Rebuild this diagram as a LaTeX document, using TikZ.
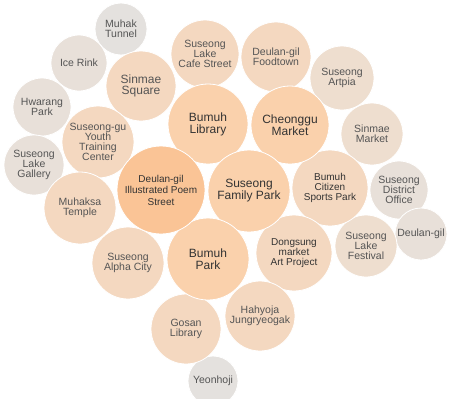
\documentclass[tikz,border=0pt]{standalone}
\usepackage{fontspec}
\setmainfont{Liberation Sans}
\definecolor{cpoem}{HTML}{FAC496}
\definecolor{cbig}{HTML}{FAD1AC}
\definecolor{cmid}{HTML}{F4D8C0}
\definecolor{clight}{HTML}{EEDECF}
\definecolor{cgray}{HTML}{E8E0D9}
\definecolor{cgrayb}{HTML}{E4E1DE}
\definecolor{tmin}{HTML}{555555}
\definecolor{tmaj}{HTML}{333333}
\tikzset{
  bub/.style={circle, draw=white, line width=0.8pt, inner sep=0pt, align=center, minimum size=2*#1},
  minor/.style={text=tmin, font=\fontsize{10.5}{10}\selectfont},
  small/.style={text=tmaj, font=\fontsize{10}{10}\selectfont},
  major/.style={text=tmaj, font=\fontsize{12}{12}\selectfont},
  poemtxt/.style={text=tmaj, font=\fontsize{10}{11.5}\selectfont},
}
\begin{document}
\begin{tikzpicture}[x=1pt,y=-1pt]
\useasboundingbox (0,0) rectangle (450,399);
\fill[white] (0,0) rectangle (450,399);
\clip (0,0) rectangle (450,399);
% outer ring
\node[bub=26pt, fill=cgrayb, minor] (muhak) at (121,29) {Muhak\\Tunnel};
\node[bub=28pt, fill=cgray, minor] (icerink) at (79,63) {Ice Rink};
\node[bub=29pt, fill=cgray, minor] (hwarang) at (42,107) {Hwarang\\Park};
\node[bub=30pt, fill=cgray, minor] (gallery) at (34,165) {Suseong\\Lake\\Gallery};
\node[bub=29pt, fill=cgray, minor] (district) at (399,190) {Suseong\\District\\Office};
\node[bub=26pt, fill=cgray, minor] (deulan) at (421,234) {Deulan-gil};
\node[bub=25pt, fill=cgrayb, minor] (yeonhoji) at (213,381) {Yeonhoji};
\node[bub=32pt, fill=clight, minor] (artpia) at (342,78) {Suseong\\Artpia};
\node[bub=31pt, fill=clight, minor] (sinmaemkt) at (372,134) {Sinmae\\Market};
\node[bub=31pt, fill=clight, minor] (festival) at (366,246) {Suseong\\Lake\\Festival};
% middle ring
\node[bub=35pt, fill=cmid, text=tmin, font=\fontsize{12}{11.5}\selectfont] (square) at (141,86) {Sinmae\\Square};
\node[bub=36pt, fill=cmid, minor] (youth) at (98,142) {Suseong-gu\\Youth\\Training\\Center};
\node[bub=36pt, fill=cmid, minor] (muhaksa) at (80,208) {Muhaksa\\Temple};
\node[bub=36pt, fill=cmid, minor] (alpha) at (128,263) {Suseong\\Alpha City};
\node[bub=34pt, fill=cmid, minor] (cafe) at (205,54) {Suseong\\Lake\\Cafe Street};
\node[bub=35pt, fill=cmid, minor] (foodtown) at (276,57) {Deulan-gil\\Foodtown};
\node[bub=38pt, fill=cmid, small] (sports) at (330,188) {Bumuh\\Citizen\\Sports Park};
\node[bub=38pt, fill=cmid, small] (dongsung) at (294,253) {Dongsung\\market\\Art Project};
\node[bub=35pt, fill=cmid, minor] (hahyoja) at (260,316) {Hahyoja\\Jungryeogak};
\node[bub=35pt, fill=cmid, minor] (gosan) at (186,329) {Gosan\\Library};
% core
\node[bub=40pt, fill=cbig, major] (library) at (208,124) {Bumuh\\Library};
\node[bub=39pt, fill=cbig, major] (cheonggu) at (290,125) {Cheonggu\\Market};
\node[bub=41pt, fill=cbig, major] (family) at (249,191) {Suseong\\Family Park};
\node[bub=41pt, fill=cbig, major] (bpark) at (208,259) {Bumuh\\Park};
\node[bub=44pt, fill=cpoem, poemtxt] (poem) at (161,190) {Deulan-gil\\Illustrated Poem\\Street};
\end{tikzpicture}
\end{document}
